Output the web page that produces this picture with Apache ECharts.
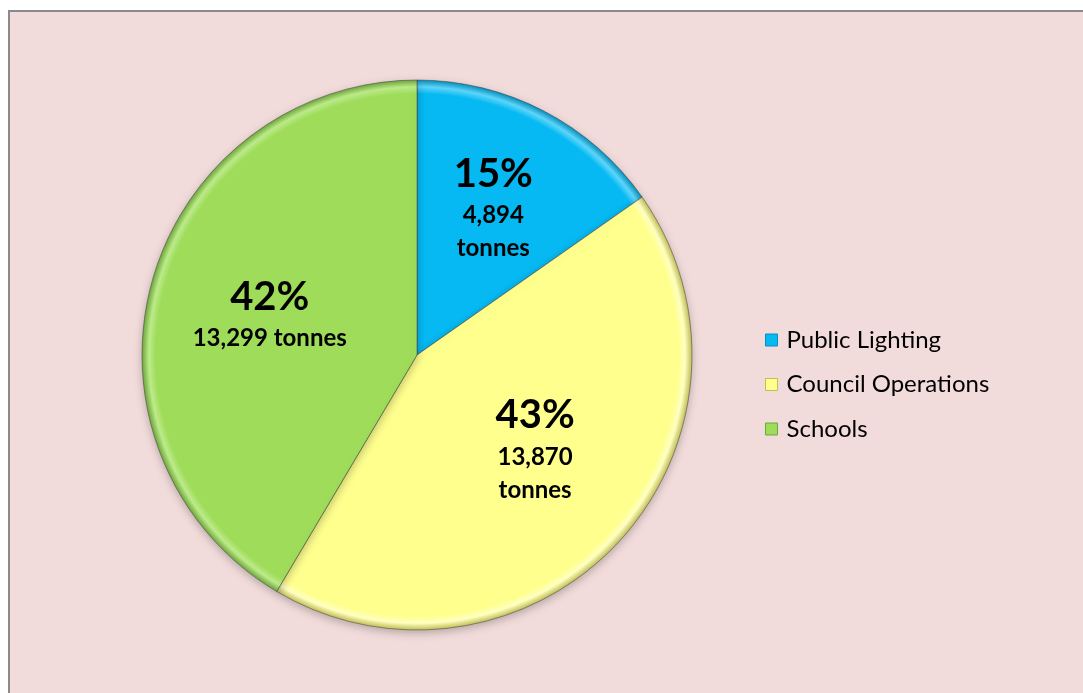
<!DOCTYPE html>
<html>
<head>
<meta charset="utf-8">
<script src="https://cdn.jsdelivr.net/npm/echarts@6/dist/echarts.min.js"></script>
<style>
  html, body { margin: 0; padding: 0; background: #ffffff; overflow: hidden; }
  #frame {
    position: absolute; left: 8px; top: 10px; width: 1100px; height: 700px;
    border-top: 2px solid #8a8a8a; border-left: 2px solid #8a8a8a;
    background: #F2DCDB;
  }
  #chart { position: absolute; left: 0; top: 0; width: 1083px; height: 693px; }
</style>
</head>
<body>
<div id="frame"></div>
<div id="chart"></div>
<script>
// Emissions by source (tonnes)
const categories = ['Public Lighting', 'Council Operations', 'Schools'];
const tonnes = [4894, 13870, 13299];
// how the tonnage line sits under the percentage in each slice
const valueBreak = ['\n', '\n', ' '];

const baseColors = ['#06B9F3', '#FFFF8E', '#9EDC5A'];
const rimLight = ['#5FD6FA', '#FFFFC2', '#BDEB8A'];
const rimDark = ['#0590BE', '#C2BF55', '#6EA83A'];

const CX = 417, CY = 355, R = 275;

function sliceFill(i) {
  return new echarts.graphic.RadialGradient(CX, CY, R, [
    { offset: 0, color: baseColors[i] },
    { offset: 0.95, color: baseColors[i] },
    { offset: 0.975, color: rimLight[i] },
    { offset: 1, color: rimDark[i] }
  ], true);
}

// small nudges so each label block sits where it reads best in its slice
const labelNudge = [[2, -5], [0, -16], [8, 1]];

const chart = echarts.init(document.getElementById('chart'));
const fontFamily = 'Lato, "Open Sans", sans-serif';

chart.setOption({
  backgroundColor: 'transparent',
  animation: false,
  legend: {
    orient: 'vertical',
    left: 765,
    top: 328,
    padding: 0,
    itemWidth: 12,
    itemHeight: 12,
    itemGap: 20.5,
    icon: 'rect',
    textStyle: { fontFamily: fontFamily, fontSize: 24, lineHeight: 24, color: '#000', padding: [0, 0, 0, 4] },
    data: categories.map((name, i) => ({
      name: name,
      itemStyle: { color: baseColors[i], borderColor: rimDark[i], borderWidth: 1 }
    }))
  },
  series: [
    {
      type: 'pie',
      name: 'slices',
      center: [CX, CY],
      radius: [0, R],
      startAngle: 90,
      clockwise: true,
      label: { show: false },
      labelLine: { show: false },
      emphasis: { disabled: true },
      itemStyle: {
        borderColor: 'rgba(60,60,60,0.5)',
        borderWidth: 1,
        shadowBlur: 8,
        shadowColor: 'rgba(0,0,0,0.25)',
        shadowOffsetY: 3
      },
      data: categories.map((name, i) => ({
        name: name,
        value: tonnes[i],
        itemStyle: { color: sliceFill(i) }
      }))
    },
    {
      // label carrier: same values, drawn transparent so labels sit further out
      type: 'pie',
      name: 'labels',
      center: [CX, CY],
      radius: [0, 316],
      startAngle: 90,
      clockwise: true,
      silent: true,
      percentPrecision: 0,
      itemStyle: { color: 'rgba(0,0,0,0)' },
      labelLine: { show: false },
      emphasis: { disabled: true },
      label: {
        show: true,
        position: 'inside',
        fontFamily: fontFamily,
        color: '#000',
        formatter: function (p) {
          return '{pct|' + p.percent + '%}\n{val|' +
            tonnes[p.dataIndex].toLocaleString('en-US') +
            valueBreak[p.dataIndex] + 'tonnes}';
        },
        rich: {
          pct: { fontFamily: fontFamily, fontSize: 40, fontWeight: 'bold', lineHeight: 50, color: '#000' },
          val: { fontFamily: fontFamily, fontSize: 24, fontWeight: 'bold', lineHeight: 33, color: '#000' }
        }
      },
      data: categories.map((name, i) => ({
        name: name,
        value: tonnes[i],
        label: { offset: labelNudge[i] }
      }))
    }
  ]
});
</script>
</body>
</html>
